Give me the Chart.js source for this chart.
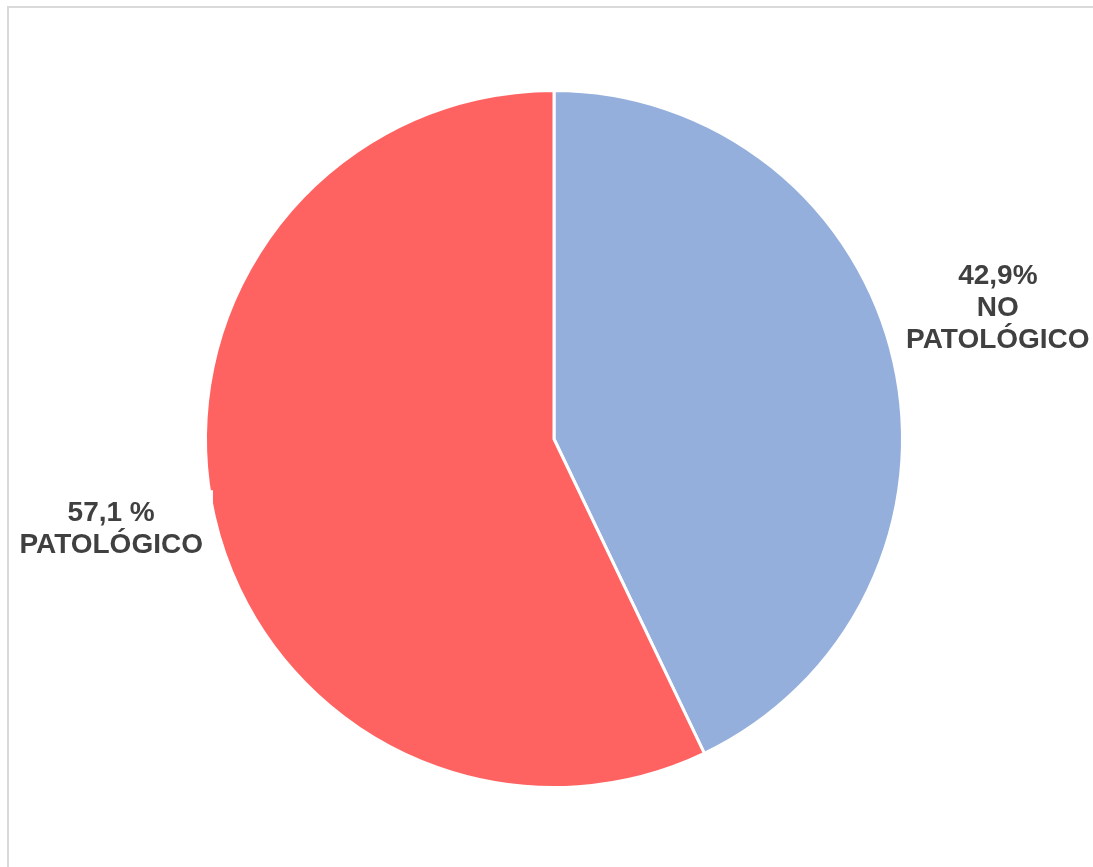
<!DOCTYPE html>
<html>
<head>
<meta charset="utf-8">
<title>Patológico / No patológico</title>
<script src="https://cdn.jsdelivr.net/npm/chart.js@4/dist/chart.umd.min.js"></script>
<style>
  html, body { margin: 0; padding: 0; background: #fff; overflow: hidden; }
  #frame {
    position: absolute; left: 7px; top: 6px;
    width: 1086px; height: 861px;
    border-top: 2px solid #d9d9d9;
    border-left: 2px solid #d9d9d9;
  }
  #pieChart { position: absolute; left: 0; top: 0; }
</style>
</head>
<body>
<div id="frame"></div>
<canvas id="pieChart" width="1093" height="867"></canvas>
<script>
// Distribution of results
const categories = ['NO PATOLÓGICO', 'PATOLÓGICO'];
const percentages = [42.9, 57.1];
const sliceColors = ['#95AFDC', '#FF6361'];
// Label text, one entry per line
const labelLines = [
  ['42,9%', 'NO', 'PATOLÓGICO'],
  ['57,1 %', 'PATOLÓGICO']
];

// Draws the multi-line labels outside each slice
const outsideLabels = {
  id: 'outsideLabels',
  afterDatasetsDraw(chart, args, opts) {
    const ctx = chart.ctx;
    const arcs = chart.getDatasetMeta(0).data;
    ctx.save();
    ctx.font = opts.font;
    ctx.textAlign = 'center';
    ctx.textBaseline = 'middle';

    arcs.forEach((arc, i) => {
      const { x, y, startAngle, endAngle, outerRadius } = arc.getProps(
        ['x', 'y', 'startAngle', 'endAngle', 'outerRadius'], true);
      const mid = (startAngle + endAngle) / 2;
      const nudge = opts.nudge[i] || [0, 0];
      const cx = x + Math.cos(mid) * outerRadius * opts.distance + nudge[0];
      const cy = y + Math.sin(mid) * outerRadius * opts.distance + nudge[1];

      const lines = labelLines[i];
      const blockH = lines.length * opts.lineHeight;
      const maxW = Math.max(...lines.map(l => ctx.measureText(l).width));

      // White label box
      ctx.fillStyle = '#ffffff';
      ctx.fillRect(cx - maxW / 2 - opts.padX, cy - blockH / 2 - opts.padY,
        maxW + opts.padX * 2, blockH + opts.padY * 2);

      ctx.fillStyle = opts.color;
      lines.forEach((line, k) => {
        const ly = cy - blockH / 2 + opts.lineHeight * (k + 0.5);
        ctx.fillText(line, cx, ly);
      });
    });
    ctx.restore();
  }
};

new Chart(document.getElementById('pieChart'), {
  type: 'pie',
  data: {
    labels: categories,
    datasets: [{
      data: percentages,
      backgroundColor: sliceColors,
      borderColor: '#ffffff',
      borderWidth: 3
    }]
  },
  options: {
    responsive: false,
    animation: false,
    layout: {
      padding: { left: 204, right: 189, top: 89, bottom: 78 }
    },
    plugins: {
      legend: { display: false },
      tooltip: { enabled: false },
      outsideLabels: {
        font: 'bold 28px "Liberation Sans", Arial, sans-serif',
        color: '#404040',
        lineHeight: 32,
        distance: 1.3,
        padX: 10,
        padY: 7,
        nudge: [[2, -31], [-1, -10]]
      }
    }
  },
  plugins: [outsideLabels]
});
</script>
</body>
</html>
